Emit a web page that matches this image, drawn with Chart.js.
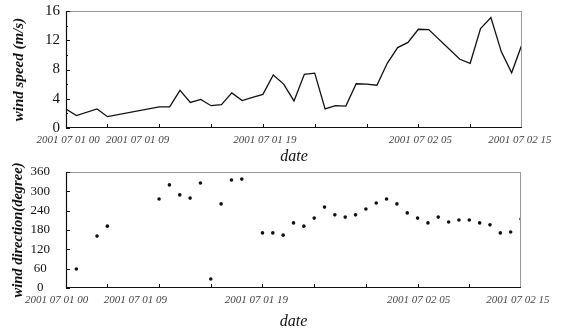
<!DOCTYPE html>
<html>
<head>
<meta charset="utf-8">
<script src="https://cdn.jsdelivr.net/npm/chart.js@4.4.1/dist/chart.umd.min.js"></script>
<style>
  html, body { margin: 0; padding: 0; background: #fff; }
  #wrap { position: relative; width: 561px; height: 331px; }
  canvas { position: absolute; left: 0; }
</style>
</head>
<body>
<div id="wrap">
  <canvas id="speed" width="561" height="166" style="top:0"></canvas>
  <canvas id="dir" width="561" height="171" style="top:160px"></canvas>
</div>
<script>
"use strict";

/* ─── Data (x = hours since 2001-07-01 00:00) ─────────────────────────────── */

const SPEED_HOURS  = [0, 1, 3, 4, 9, 10, 11, 12, 13, 14, 15, 16, 17, 18, 19, 20, 21, 22, 23, 24,
                      25, 26, 27, 28, 29, 30, 31, 32, 33, 34, 35, 38, 39, 40, 41, 42, 43, 44];
const SPEED_VALUES = [2.6, 1.7, 2.6, 1.55, 2.9, 2.9, 5.15, 3.5, 3.9, 3.05, 3.2, 4.8, 3.75, 4.2, 4.6, 7.25, 6.0, 3.7, 7.35, 7.5,
                      2.6, 3.05, 3.0, 6.05, 6.0, 5.85, 8.85, 11.0, 11.7, 13.5, 13.45, 9.4, 8.85, 13.6, 15.1, 10.45, 7.55, 11.45];

const DIR_HOURS  = [1, 3, 4, 9, 10, 11, 12, 13, 14, 15, 16, 17, 19, 20, 21, 22, 23, 24, 25, 26,
                    27, 28, 29, 30, 31, 32, 33, 34, 35, 36, 37, 38, 39, 40, 41, 42, 43, 44];
const DIR_VALUES = [59, 161, 192, 276, 320, 289, 279, 326, 28, 261, 335, 338, 171, 171, 164, 202, 192, 217, 251, 227,
                    220, 227, 245, 264, 276, 261, 233, 217, 202, 220, 205, 211, 211, 202, 196, 171, 174, 214];

const TICK_HOURS  = [4, 9, 14, 19, 24, 29, 34, 39];
const DATE_LABELS = ["2001 07 01 00", "2001 07 01 09", "2001 07 01 19", "2001 07 02 05", "2001 07 02 15"];
// where the date strings sit along the axis in each panel
const SPEED_LABEL_HOURS = [0.2, 6.9, 19.2, 34.2, 43.8];
const DIR_LABEL_HOURS   = [-0.9, 6.7, 18.4, 34.1, 43.7];

const SERIF = "'Liberation Serif', 'Times New Roman', serif";
const INK = "#111";

/* ─── Frame, inward ticks and date labels ─────────────────────────────────── */

const framePlugin = {
  id: "frame",
  afterDraw(chart, args, opts) {
    const { ctx, chartArea: a, scales } = chart;
    const line = (x1, y1, x2, y2) => { ctx.beginPath(); ctx.moveTo(x1, y1); ctx.lineTo(x2, y2); ctx.stroke(); };
    ctx.save();

    // light top/right edges, dark left/bottom
    ctx.strokeStyle = "#9a9a9a";
    ctx.lineWidth = 1;
    line(a.left, a.top + 0.5, a.right, a.top + 0.5);
    line(a.right - 0.5, a.top, a.right - 0.5, a.bottom);
    ctx.strokeStyle = INK;
    ctx.lineWidth = 1.2;
    line(a.left + 0.5, a.top, a.left + 0.5, a.bottom);
    line(a.left, a.bottom - 0.5, a.right, a.bottom - 0.5);

    ctx.lineWidth = 1;
    scales.x.ticks.forEach(t => {
      const px = Math.round(scales.x.getPixelForValue(t.value)) + 0.5;
      line(px, a.bottom, px, a.bottom - 4);
    });
    scales.y.ticks.forEach(t => {
      const py = Math.round(scales.y.getPixelForValue(t.value)) + 0.5;
      line(a.left, py, a.left + 4, py);
    });
    if (opts.minorStep) {
      for (let v = opts.minorStep; v < scales.y.max; v += opts.minorStep * 2) {
        const py = Math.round(scales.y.getPixelForValue(v)) + 0.5;
        line(a.left, py, a.left + 2, py);
      }
    }

    ctx.fillStyle = "#444";
    ctx.font = `italic 11px ${SERIF}`;
    ctx.textAlign = "center";
    ctx.textBaseline = "middle";
    opts.labelHours.forEach((h, i) => {
      ctx.fillText(DATE_LABELS[i], scales.x.getPixelForValue(h), a.bottom + 12);
    });
    ctx.restore();
  },
};

function xAxis(height, titlePad) {
  return {
    type: "linear",
    min: 0, max: 44,
    grid: { display: false, drawTicks: false },
    border: { display: false },
    ticks: { display: false },
    afterBuildTicks: s => { s.ticks = TICK_HOURS.map(v => ({ value: v })); },
    afterFit: s => { s.height = height; },
    title: {
      display: true, text: "date", color: INK,
      font: { family: SERIF, style: "italic", size: 16 },
      padding: { top: 0, bottom: titlePad },
    },
  };
}

// fixed-width y axis; drop the label overhang so layout padding sets the plot top
function fitY(s) {
  s.width = 66;
  s.paddingTop = 0;
  s.paddingBottom = 0;
}

/* ─── Wind speed ──────────────────────────────────────────────────────────── */

new Chart(document.getElementById("speed"), {
  type: "line",
  data: {
    datasets: [{
      data: SPEED_HOURS.map((h, i) => ({ x: h, y: SPEED_VALUES[i] })),
      borderColor: INK,
      borderWidth: 1.3,
      pointRadius: 0,
      tension: 0,
      fill: false,
    }],
  },
  options: {
    responsive: false,
    animation: false,
    layout: { padding: { top: 11, right: 39, left: 0, bottom: 0 } },
    plugins: {
      legend: { display: false },
      tooltip: { enabled: false },
      frame: { labelHours: SPEED_LABEL_HOURS, minorStep: 2 },
    },
    scales: {
      x: xAxis(38, 0),
      y: {
        min: 0, max: 16,
        grid: { display: false, drawTicks: false },
        border: { display: false },
        ticks: { stepSize: 4, padding: 6, autoSkip: false, color: INK, font: { family: SERIF, size: 15 } },
        afterFit: fitY,
        title: {
          display: true, text: "wind speed (m/s)", color: INK,
          font: { family: SERIF, style: "italic", weight: "bold", size: 15 },
          padding: { top: 10, bottom: 0 },
        },
      },
    },
  },
  plugins: [framePlugin],
});

/* ─── Wind direction ──────────────────────────────────────────────────────── */

new Chart(document.getElementById("dir"), {
  type: "scatter",
  data: {
    datasets: [{
      data: DIR_HOURS.map((h, i) => ({ x: h, y: DIR_VALUES[i] })),
      backgroundColor: INK,
      borderWidth: 0,
      pointRadius: 1.8,
    }],
  },
  options: {
    responsive: false,
    animation: false,
    layout: { padding: { top: 12, right: 40, left: 0, bottom: 0 } },
    plugins: {
      legend: { display: false },
      tooltip: { enabled: false },
      frame: { labelHours: DIR_LABEL_HOURS },
    },
    scales: {
      x: xAxis(43, 0),
      y: {
        min: 0, max: 360,
        grid: { display: false, drawTicks: false },
        border: { display: false },
        ticks: { stepSize: 60, padding: 16, autoSkip: false, crossAlign: "center", color: INK, font: { family: SERIF, size: 13 } },
        afterFit: fitY,
        title: {
          display: true, text: "wind direction(degree)", color: INK,
          font: { family: SERIF, style: "italic", weight: "bold", size: 14.5 },
          padding: { top: 10, bottom: 0 },
        },
      },
    },
  },
  plugins: [framePlugin],
});
</script>
</body>
</html>
